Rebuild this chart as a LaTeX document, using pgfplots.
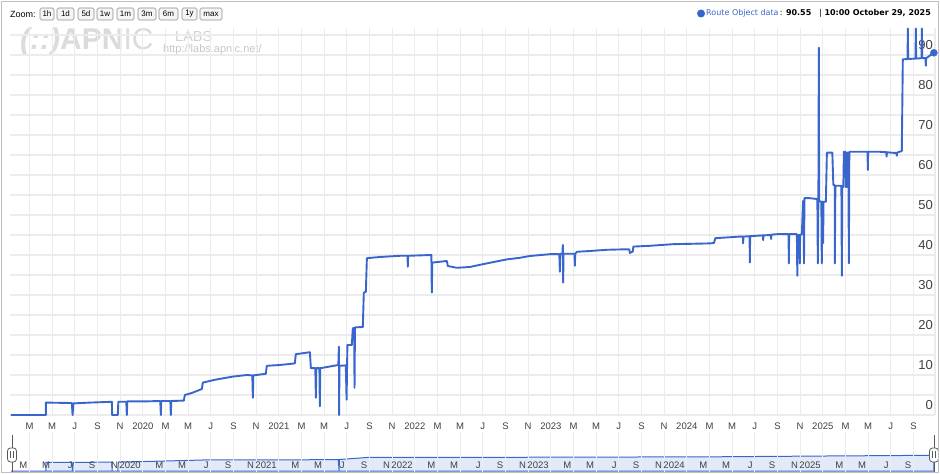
\documentclass[border=0pt]{standalone}
\usepackage{fontspec}
\setmainfont{Liberation Sans}
\newfontfamily\dejavu{DejaVu Sans}
\usepackage{pgfplots}
\pgfplotsset{compat=1.18}
\definecolor{lineblue}{RGB}{57,102,204}
\definecolor{gridlight}{RGB}{236,236,236}
\definecolor{griddark}{RGB}{210,210,210}
\definecolor{minifill}{RGB}{226,234,249}
\begin{document}
\begin{tikzpicture}[x=1pt,y=1pt]
\useasboundingbox (0pt,0pt) rectangle (940pt,474pt);
\fill[white] (0pt,0pt) rectangle (940pt,474pt);
% watermark
\node[anchor=base west, inner sep=0, text=black!14, font=\fontsize{30}{30}\selectfont\bfseries] at (20pt,424pt) {\itshape(::)\upshape APN\mdseries IC};
\node[anchor=base west, inner sep=0, text=black!18, font=\fontsize{14.5}{14.5}\selectfont] at (175pt,432pt) {LABS};
\node[anchor=base west, inner sep=0, text=black!22, font=\fontsize{11}{11}\selectfont] at (163pt,421pt) {http://labs.apnic.net/};
% main chart
\begin{axis}[
 at={(10pt,59pt)}, anchor=south west, scale only axis, width=925pt, height=387pt,
 xmin=0.28, xmax=81.9, ymin=0, ymax=96.75,
 axis line style={draw=none},
 xtick={2,4,...,80},
 xticklabels={M,M,J,S,N,2020,M,M,J,S,N,2021,M,M,J,S,N,2022,M,M,J,S,N,2023,M,M,J,S,N,2024,M,M,J,S,N,2025,M,M,J,S},
 ytick={0,10,...,90}, minor ytick={5,15,...,95},
 grid=both, major grid style={gridlight, line width=1.2pt}, minor grid style={gridlight, line width=1.2pt},
 extra x ticks={12,24,36,48,60,72}, extra x tick labels={},
 extra x tick style={grid style={griddark, line width=1.2pt}},
 extra y ticks={0}, extra y tick labels={},
 extra y tick style={grid style={black!28, line width=1.2pt}},
 major tick length=0pt, minor tick length=0pt, tick style={draw=none},
 yticklabel pos=right,
 yticklabel style={anchor=east, xshift=-2pt, yshift=10pt, inner sep=0pt, font=\fontsize{13}{13}\selectfont, text=black!75},
 xticklabel style={anchor=center, yshift=-11pt, inner sep=0pt, font=\fontsize{9.5}{9.5}\selectfont, text=black!75},
 /pgf/number format/assume math mode=true,
 clip=false,
]
\draw[gridlight, line width=1.2pt] (rel axis cs:1,0) -- (rel axis cs:1,1);
\addplot[lineblue, line width=1.9pt, line join=round] coordinates {
(0.35,0) (3.44,0) (3.44,3.1) (5.74,3.0) (5.80,0) (5.87,2.9) (7.32,3.1) (9.27,3.3) (9.29,0) (9.79,0) (9.84,3.3)
(10.54,3.3) (10.59,0) (10.63,3.4) (12.18,3.4) (13.54,3.5) (13.59,0) (13.63,3.5) (14.43,3.5) (14.47,0) (14.51,3.5)
(15.62,3.6) (15.71,5.0) (16.32,5.5) (17.03,6.3) (17.21,6.5) (17.29,8.1) (18.35,8.8) (19.94,9.6) (21.18,10.0)
(21.66,9.9) (21.71,4.3) (21.75,9.9) (22.85,10.3) (22.94,12.3) (24.09,12.5) (25.41,12.9) (25.50,15.2) (26.74,15.7)
(26.83,11.7) (27.22,11.7) (27.27,4.3) (27.31,11.7) (27.58,11.7) (27.62,2.2) (27.66,11.7) (29.25,12.5) (29.30,17.1)
(29.32,0) (29.35,12.3) (29.91,12.4) (29.98,3.8) (30.05,17.5) (30.44,17.5) (30.53,21.7) (30.65,21.7) (30.68,6.8)
(30.72,21.9) (31.41,22.0) (31.50,30.6) (31.68,30.8) (31.77,39.2) (32.91,39.5) (34.68,39.8) (35.36,39.8) (35.38,37.1)
(35.41,39.8) (37.46,40.0) (37.50,30.6) (37.54,38.1) (38.83,38.5) (38.91,37.25) (39.71,36.8) (40.85,37.0) (42.00,37.7)
(43.06,38.3) (44.12,38.9) (45.27,39.3) (46.15,39.75) (47.91,40.2) (48.75,40.2) (48.80,35.8) (48.84,40.3) (49.02,40.3)
(49.06,42.5) (49.09,33.1) (49.12,40.3) (50.09,40.3) (50.12,37.3) (50.16,40.3) (50.30,40.8) (51.44,41.0) (52.94,41.3)
(54.27,41.4) (54.93,41.4) (54.97,40.5) (55.24,40.9) (55.28,42.1) (56.74,42.3) (58.77,42.7) (62.03,42.9) (62.39,43.0)
(62.52,44.2) (64.68,44.6) (64.95,44.6) (64.97,42.9) (65.00,44.6) (65.54,44.7) (65.56,38.1) (65.59,44.7) (66.71,44.9)
(66.74,43.7) (66.76,44.9) (67.41,45.0) (67.44,44.0) (67.47,45.1) (68.21,45.25) (68.98,45.2) (69.00,37.9) (69.03,45.2)
(69.71,45.2) (69.75,34.8) (69.80,45.0) (69.95,45.0) (69.97,37.9) (70.00,45.0) (70.15,45.2) (70.26,53.5) (70.31,53.5)
(70.34,37.9) (70.38,54.2) (70.85,54.2) (71.52,54.0) (71.56,37.9) (71.61,54.0) (71.65,91.8) (71.68,53.5) (71.87,53.3)
(71.91,37.9) (71.96,53.3) (72.00,53.3) (72.03,43.0) (72.06,53.3) (72.27,53.3) (72.36,65.6) (72.84,65.6) (72.93,57.5)
(73.05,57.5) (73.06,37.9) (73.11,57.3) (73.64,57.3) (73.68,34.8) (73.72,57.0) (73.81,57.0) (73.86,65.8) (73.99,65.8)
(74.03,57.0) (74.12,57.0) (74.15,65.6) (74.25,65.6) (74.30,37.9) (74.34,65.6) (74.38,65.8) (75.95,65.8) (75.97,61.25)
(76.00,65.8) (77.03,65.8) (77.60,65.7) (77.63,64.6) (77.66,65.7) (77.91,65.6) (78.50,65.5) (78.53,64.8) (78.56,65.6)
(78.97,66.0) (79.06,88.9) (79.48,89.0) (79.50,96.6) (79.53,89.0) (80.18,89.1) (80.21,96.6) (80.24,89.1) (80.71,89.2)
(80.74,96.6) (80.77,89.2) (81.06,89.2) (81.09,87.3) (81.12,89.2) (81.80,90.55)
};
\addplot[only marks, mark=*, mark size=3.5pt, lineblue] coordinates {(81.80,90.55)};
\end{axis}
% range selector
\begin{axis}[
 at={(10pt,2pt)}, anchor=south west, scale only axis, width=925pt, height=40pt,
 xmin=0.28, xmax=81.9, ymin=-1, ymax=39,
 axis line style={draw=none}, axis on top,
 xtick={2,4,...,80},
 xticklabels={M,M,J,S,N,2020,M,M,J,S,N,2021,M,M,J,S,N,2022,M,M,J,S,N,2023,M,M,J,S,N,2024,M,M,J,S,N,2025,M,M,J,S},
 ytick=\empty,
 xmajorgrids, major grid style={gridlight, line width=1pt},
 extra x ticks={12,24,36,48,60,72}, extra x tick labels={},
 extra x tick style={grid style={griddark, line width=1pt}},
 major tick length=0pt, tick style={draw=none},
 xticklabel style={anchor=east, xshift=-2pt, yshift=7pt, inner sep=0pt, font=\fontsize{9.5}{9.5}\selectfont, text=black!75},
 clip=false,
]
\addplot[lineblue, line width=1pt, fill=minifill] coordinates {
(0.35,0) (3.44,0) (3.44,8.5) (5.74,8.5) (5.80,0) (5.87,8.5) (9.27,9) (9.29,0) (9.79,0) (9.84,9) (12.18,9.5)
(15.71,10.5) (17.29,11) (24.09,11) (29.25,11.5) (29.32,0) (29.35,11.5) (31.77,13.5) (48.8,13.8) (62.5,14.2)
(72.36,15) (79.06,15.5) (81.80,15.5)
} \closedcycle;
\end{axis}
% handles
\foreach \hx in {12,934}{
 \draw[black!65, line width=0.8pt] (\hx pt,2pt) -- (\hx pt,39pt);
 \draw[black!65, line width=0.8pt, fill=white, rounded corners=3pt] (\hx pt-4.5pt,12pt) rectangle (\hx pt+4.5pt,26pt);
 \draw[black!65, line width=0.8pt] (\hx pt-1.2pt,15.5pt) -- (\hx pt-1.2pt,22.5pt) (\hx pt+1.2pt,15.5pt) -- (\hx pt+1.2pt,22.5pt);
}
% frame
\draw[black!25, line width=0.8pt] (1pt,1.5pt) rectangle (938.5pt,473pt);
% zoom buttons
\node[anchor=west, inner sep=0, font=\fontsize{9}{9}\selectfont] at (10pt,460pt) {Zoom:};
\foreach \a/\b/\t in {40/54/1h, 57/74/1d, 78/94/5d, 97/113/1w, 117/134/1m, 138/156/3m, 159/178/6m, 182/197/1y, 200/222/max}{
 \draw[black!45, fill=black!4, rounded corners=1.5pt, line width=0.6pt] (\a pt,454pt) rectangle (\b pt,466pt);
 \node[inner sep=0, font=\fontsize{8}{8}\selectfont] at ({(\a+\b)/2*1pt},460pt) {\t};
}
% legend
\node[anchor=east, inner sep=0, font=\dejavu\fontsize{8}{9}\selectfont] (leg) at (931pt,460.5pt) {\textcolor{lineblue}{Route Object data}\,: \textbf{90.55}\quad| \textbf{10:00 October 29, 2025}};
\fill[lineblue] ([xshift=-5pt]leg.west) circle (4pt);
\end{tikzpicture}
\end{document}
